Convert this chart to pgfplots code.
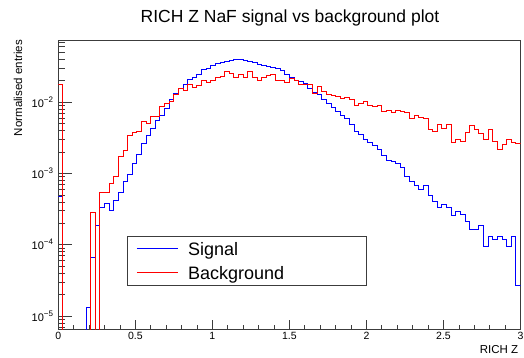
\documentclass[border=0pt]{standalone}
\usepackage{pgfplots}
\usepackage{pgfplotstable}
\pgfplotsset{compat=1.18}
\usepackage{fontspec}
\setmainfont{Liberation Sans}
\definecolor{sigblue}{RGB}{0,0,255}
\definecolor{bkgred}{RGB}{255,0,0}
\definecolor{framec}{RGB}{60,60,60}

\pgfplotstableread{
x sig bkg
0.00 4.7e-4 1.8e-2
0.03 1e-9 1e-9
0.06 1e-9 1e-9
0.09 1e-9 1e-9
0.12 1e-9 1e-9
0.15 1e-9 1e-9
0.18 1.3e-5 1e-9
0.21 6.6e-5 2.8e-4
0.24 1.86e-4 1e-9
0.27 3.3e-4 5.4e-4
0.30 3.8e-4 5.4e-4
0.33 3.0e-4 7.3e-4
0.36 4.2e-4 9.1e-4
0.39 5.4e-4 1.73e-3
0.42 7.7e-4 2.07e-3
0.45 9.8e-4 3.47e-3
0.48 1.39e-3 3.75e-3
0.51 1.82e-3 3.85e-3
0.54 2.6e-3 5.4e-3
0.57 3.4e-3 5.1e-3
0.60 4.3e-3 6.3e-3
0.63 5.5e-3 6.3e-3
0.66 6.5e-3 8.7e-3
0.69 8.2e-3 9.7e-3
0.72 1.08e-2 1.02e-2
0.75 1.31e-2 1.3e-2
0.78 1.57e-2 1.54e-2
0.81 1.79e-2 1.46e-2
0.84 2.06e-2 1.75e-2
0.87 2.24e-2 1.62e-2
0.90 2.49e-2 1.71e-2
0.93 2.84e-2 1.99e-2
0.96 3.0e-2 1.91e-2
0.99 3.27e-2 2.01e-2
1.02 3.48e-2 2.24e-2
1.05 3.66e-2 2.29e-2
1.08 3.79e-2 2.69e-2
1.11 3.85e-2 2.55e-2
1.14 3.92e-2 2.24e-2
1.17 3.96e-2 2.42e-2
1.20 3.85e-2 2.24e-2
1.23 3.7e-2 2.69e-2
1.26 3.6e-2 2.24e-2
1.29 3.44e-2 1.99e-2
1.32 3.33e-2 2.24e-2
1.35 3.2e-2 2.34e-2
1.38 3.06e-2 2.42e-2
1.41 2.93e-2 1.99e-2
1.44 2.75e-2 2.01e-2
1.47 2.47e-2 1.91e-2
1.50 2.21e-2 2.17e-2
1.53 2.05e-2 2.05e-2
1.56 1.95e-2 1.78e-2
1.59 1.81e-2 1.75e-2
1.62 1.57e-2 1.8e-2
1.65 1.38e-2 1.34e-2
1.68 1.27e-2 1.66e-2
1.71 1.08e-2 1.41e-2
1.74 9.7e-3 1.29e-2
1.77 8.4e-3 1.23e-2
1.80 7.4e-3 1.2e-2
1.83 6.6e-3 1.14e-2
1.86 5.95e-3 1.17e-2
1.89 4.9e-3 1.1e-2
1.92 3.87e-3 8.9e-3
1.95 3.48e-3 9.5e-3
1.98 3.05e-3 1.02e-2
2.01 2.71e-3 9.0e-3
2.04 2.46e-3 8.7e-3
2.07 2.14e-3 9.1e-3
2.10 1.77e-3 7.4e-3
2.13 1.52e-3 7.6e-3
2.16 1.47e-3 7.2e-3
2.19 1.36e-3 7.6e-3
2.22 1.23e-3 7.4e-3
2.25 9.1e-4 7.2e-3
2.28 7.7e-4 5.95e-3
2.31 6.7e-4 6.5e-3
2.34 5.9e-4 6.15e-3
2.37 6.7e-4 5.95e-3
2.40 4.85e-4 4.1e-3
2.43 4.0e-4 3.9e-3
2.46 3.3e-4 4.9e-3
2.49 3.7e-4 4.3e-3
2.52 3.3e-4 4.9e-3
2.55 2.54e-4 2.7e-3
2.58 2.92e-4 3.05e-3
2.61 2.62e-4 2.8e-3
2.64 2.12e-4 3.8e-3
2.67 1.62e-4 4.7e-3
2.70 1.62e-4 4.2e-3
2.73 1.84e-4 3.7e-3
2.76 9.4e-5 3.0e-3
2.79 1.3e-4 4.1e-3
2.82 1.2e-4 2.8e-3
2.85 1.3e-4 2.14e-3
2.88 1.2e-4 2.57e-3
2.91 9.4e-5 2.96e-3
2.94 1.3e-4 2.7e-3
2.97 2.65e-5 2.6e-3
3.00 2.65e-5 2.6e-3
}\histdata

\begin{document}
\begin{tikzpicture}
\path[use as bounding box] (0,0) rectangle (524pt,358pt);
% y ticks axis
\begin{axis}[
  at={(58.3pt,29pt)}, anchor=south west,
  scale only axis, width=462.2pt, height=289pt,
  xmin=0, xmax=3, ymode=log, ymin=6.57e-6, ymax=0.0748,
  axis line style={draw=none},
  xtick=\empty,
  ytick={1e-5,1e-4,1e-3,1e-2},
  yticklabels={10\raisebox{5pt}{\fontsize{8}{8}\selectfont −5},
               10\raisebox{5pt}{\fontsize{8}{8}\selectfont −4},
               10\raisebox{5pt}{\fontsize{8}{8}\selectfont −3},
               10\raisebox{5pt}{\fontsize{8}{8}\selectfont −2}},
  minor ytick={7e-6,8e-6,9e-6,2e-5,3e-5,4e-5,5e-5,6e-5,7e-5,8e-5,9e-5,
               2e-4,3e-4,4e-4,5e-4,6e-4,7e-4,8e-4,9e-4,
               2e-3,3e-3,4e-3,5e-3,6e-3,7e-3,8e-3,9e-3,
               2e-2,3e-2,4e-2,5e-2,6e-2,7e-2},
  tick align=inside, ytick pos=left,
  major tick length=13.9pt, minor tick length=6.95pt,
  tick style={draw=framec, line width=0.7pt},
  yticklabel style={font=\fontsize{11}{13}\selectfont, inner sep=0pt, xshift=-5pt},
]
\end{axis}
% main axis
\begin{axis}[
  at={(58.3pt,29pt)}, anchor=south west,
  scale only axis, width=462.2pt, height=289pt,
  xmin=0, xmax=3, ymode=log, ymin=6.57e-6, ymax=0.0748,
  axis line style={draw=framec, line width=0.8pt},
  ytick=\empty,
  xtick={0,0.5,1,1.5,2,2.5,3},
  xticklabels={0,0.5,1,1.5,2,2.5,3},
  minor xtick={0.1,0.2,0.3,0.4,0.6,0.7,0.8,0.9,1.1,1.2,1.3,1.4,1.6,1.7,1.8,1.9,2.1,2.2,2.3,2.4,2.6,2.7,2.8,2.9},
  tick align=inside, xtick pos=bottom,
  major tick length=8.7pt, minor tick length=4.35pt,
  tick style={draw=framec, line width=0.7pt},
  xticklabel style={font=\fontsize{10.5}{12}\selectfont, inner sep=0pt, yshift=-2.7pt},
  legend cell align=left,
  legend style={at={(0.1493,0.3218)}, anchor=north west, draw=framec, line width=0.8pt,
    fill=white, inner xsep=8.7pt, inner ysep=6pt, row sep=11pt, column sep=10pt,
    font=\fontsize{18}{21}\selectfont,
    nodes={inner sep=0pt, text height=13pt, text depth=0pt}},
]
\addlegendimage{draw=sigblue, line width=1pt, line legend, legend image code/.code={\draw[draw=sigblue, line width=1pt] (0pt,0pt) -- (40.7pt,0pt);}}
\addlegendentry{\makebox[169.6pt][l]{Signal}}
\addlegendimage{draw=bkgred, line width=1pt, line legend, legend image code/.code={\draw[draw=bkgred, line width=1pt] (0pt,0pt) -- (40.7pt,0pt);}}
\addlegendentry{\makebox[169.6pt][l]{Background}}
\addplot[const plot mark left, draw=sigblue, line width=1pt, no marks, forget plot] table[x=x, y=sig] {\histdata};
\addplot[const plot mark left, draw=bkgred, line width=1pt, no marks, forget plot] table[x=x, y=bkg] {\histdata};
\end{axis}
\node[anchor=base, font=\fontsize{17.5}{20}\selectfont] at (290pt,335.3pt) {RICH Z NaF signal vs background plot};
\node[anchor=base east, rotate=90, font=\fontsize{11.5}{13}\selectfont, inner sep=0pt] at (22pt,318pt) {Normalised entries};
\node[anchor=base east, font=\fontsize{11.5}{13}\selectfont, inner sep=0pt] at (518.3pt,4.7pt) {RICH Z};
\end{tikzpicture}
\end{document}
